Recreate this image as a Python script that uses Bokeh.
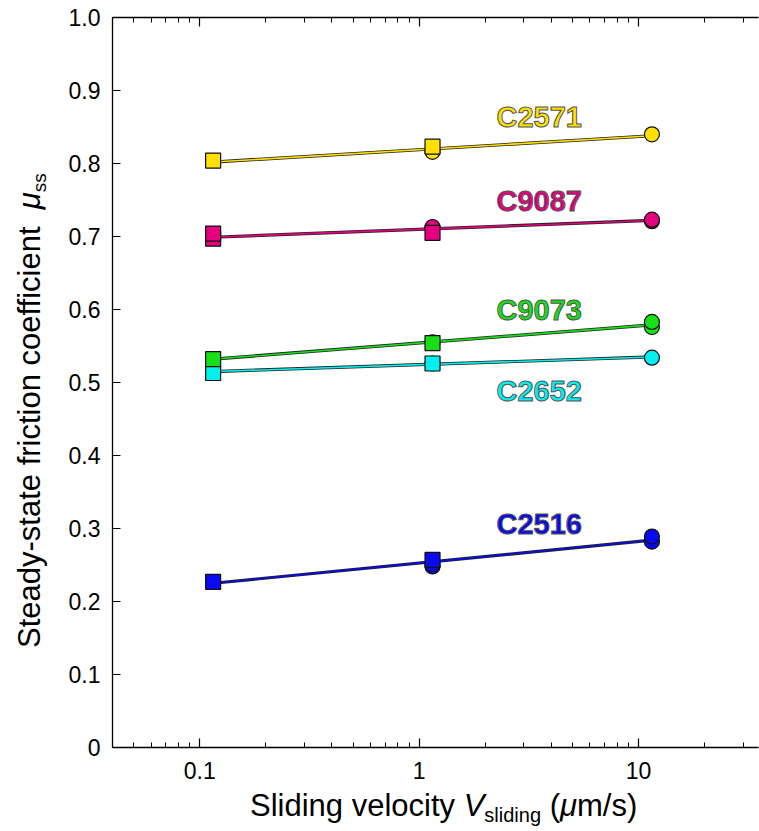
import math
from bokeh.plotting import figure
from bokeh.models import LogAxis, FixedTicker, Div
from bokeh.layouts import row, column
from bokeh.embed import file_html
from bokeh.resources import INLINE
from bokeh.core.properties import value

FONT = "Liberation Sans"

# ---------------- data ----------------
samples = ["C2516", "C2652", "C9073", "C9087", "C2571"]
colors = ["#0A0AF0", "#00F0F0", "#18E018", "#E4007F", "#FFE000"]

# square markers: velocity (um/s) and mu_ss
c2516_sq_v = [0.115, 1.15]
c2516_sq_mu = [0.227, 0.257]
c2652_sq_v = [0.115, 1.15]
c2652_sq_mu = [0.513, 0.526]
c9073_sq_v = [0.115, 1.15]
c9073_sq_mu = [0.532, 0.554]
c9087_sq_v = [0.115, 0.115, 1.15]
c9087_sq_mu = [0.697, 0.704, 0.705]
c2571_sq_v = [0.115, 1.15]
c2571_sq_mu = [0.804, 0.823]

# circle markers
c2516_ci_v = [1.15, 1.15, 11.5, 11.5]
c2516_ci_mu = [0.248, 0.251, 0.282, 0.289]
c2652_ci_v = [1.15, 11.5]
c2652_ci_mu = [0.526, 0.534]
c9073_ci_v = [1.15, 11.5, 11.5]
c9073_ci_mu = [0.555, 0.576, 0.583]
c9087_ci_v = [1.15, 11.5, 11.5]
c9087_ci_mu = [0.713, 0.721, 0.723]
c2571_ci_v = [1.15, 11.5]
c2571_ci_mu = [0.816, 0.840]

# fitted lines (end points)
fit_v = [0.115, 11.5]
c2516_fit = [0.225, 0.284]
c2652_fit = [0.515, 0.535]
c9073_fit = [0.532, 0.579]
c9087_fit = [0.699, 0.722]
c2571_fit = [0.802, 0.838]

sq_v = [c2516_sq_v, c2652_sq_v, c9073_sq_v, c9087_sq_v, c2571_sq_v]
sq_mu = [c2516_sq_mu, c2652_sq_mu, c9073_sq_mu, c9087_sq_mu, c2571_sq_mu]
ci_v = [c2516_ci_v, c2652_ci_v, c9073_ci_v, c9087_ci_v, c2571_ci_v]
ci_mu = [c2516_ci_mu, c2652_ci_mu, c9073_ci_mu, c9087_ci_mu, c2571_ci_mu]
fits = [c2516_fit, c2652_fit, c9073_fit, c9087_fit, c2571_fit]

x_major = [0.1, 1, 10]
x_minor = [0.04, 0.05, 0.06, 0.07, 0.08, 0.09,
           0.2, 0.3, 0.4, 0.5, 0.6, 0.7, 0.8, 0.9,
           2, 3, 4, 5, 6, 7, 8, 9, 20, 30]
x_labels = ["0.1", "1", "10"]
y_ticks = [0, 0.1, 0.2, 0.3, 0.4, 0.5, 0.6, 0.7, 0.8, 0.9, 1.0]
y_labels = ["0", "0.1", "0.2", "0.3", "0.4", "0.5", "0.6", "0.7", "0.8", "0.9", "1.0"]

# ---------------- layout helpers (page pixels -> data) ----------------
def xv(px):
    return 10 ** (-1 + (px - 199.3) / 219.4)

def yv(py):
    return (747.3 - py) / 730.0

YDIV_W = 56
FRAME_L, FRAME_R = 112, 758
FRAME_T, FRAME_H = 17, 730
FIG_H = 790
X0, X1 = xv(FRAME_L), xv(FRAME_R)

p = figure(x_axis_type="log", x_range=(X0, X1), y_range=(0, 1),
           frame_width=FRAME_R - FRAME_L, frame_height=FRAME_H,
           min_border_left=FRAME_L - YDIV_W, min_border_right=1,
           min_border_top=FRAME_T, min_border_bottom=FIG_H - FRAME_T - FRAME_H,
           output_backend="svg", toolbar_location=None)
p.grid.visible = False
p.outline_line_color = None
p.background_fill_color = "white"
p.border_fill_color = "white"

xa = p.xaxis[0]
xa.ticker = FixedTicker(ticks=x_major, minor_ticks=x_minor)
xa.major_label_overrides = {t: l for t, l in zip(x_major, x_labels)}
xa.major_tick_in = 9
xa.major_tick_out = 0
xa.minor_tick_in = 5
xa.minor_tick_out = 0
xa.axis_line_width = 1.3
xa.major_tick_line_width = 1.2
xa.minor_tick_line_width = 1.0
xa.major_label_text_font = FONT
xa.major_label_text_font_size = "23px"
xa.major_label_text_color = "black"
xa.major_label_standoff = 14

top = LogAxis(ticker=FixedTicker(ticks=x_major, minor_ticks=x_minor),
              major_tick_in=9, major_tick_out=0, minor_tick_in=5, minor_tick_out=0,
              axis_line_width=1.3, major_tick_line_width=1.2, minor_tick_line_width=1.0,
              major_label_text_font_size="0px", major_label_standoff=0)
top.major_label_overrides = {t: "" for t in x_major}
p.add_layout(top, "above")

ya = p.yaxis[0]
ya.ticker = FixedTicker(ticks=y_ticks)
ya.major_label_overrides = {t: l for t, l in zip(y_ticks, y_labels)}
ya.major_tick_in = 8
ya.major_tick_out = 0
ya.minor_tick_in = 0
ya.minor_tick_out = 0
ya.axis_line_width = 1.3
ya.major_tick_line_width = 1.2
ya.major_label_text_font = FONT
ya.major_label_text_font_size = "23px"
ya.major_label_text_color = "black"
ya.major_label_standoff = 12

# ---------------- data marks ----------------
for i, s in enumerate(samples):
    p.line(fit_v, fits[i], line_color="#222222", line_width=3.2)
    p.line(fit_v, fits[i], line_color=colors[i], line_width=1.6)

for i, s in enumerate(samples):
    c = colors[i]
    p.scatter(ci_v[i], ci_mu[i], marker="circle", size=15,
              fill_color=c, line_color="#111111", line_width=1.2)
    p.scatter(sq_v[i], sq_mu[i], marker="square", size=15,
              fill_color=c, line_color="#111111", line_width=1.2)

# sample labels
lab_x = [xv(496)] * 5
lab_y = [yv(524), yv(391), yv(310), yv(201), yv(117)]
p.text(x=lab_x, y=lab_y, text=samples, text_color=colors,
       text_font=value(FONT), text_font_size="29px", text_font_style="bold",
       text_align="left", text_baseline="alphabetic",
       text_outline_color="#555555")

# ---------------- axis titles (HTML, real text) ----------------
font_css = f"font-family:'{FONT}'; font-size:31px; line-height:31px; white-space:nowrap; color:black;"
sub_css = "font-size:20px; position:relative; top:6px;"

y_html = (f"<div style=\"{font_css} position:relative; left:14px; top:648px; "
          f"transform:rotate(-90deg); transform-origin:0 0; width:600px;\">"
          f"Steady-state friction coefficient&nbsp;&nbsp;<i>\u03bc</i>"
          f"<span style=\"font-size:19px; position:relative; top:6px;\">ss</span></div>")
x_html = (f"<div style=\"{font_css} margin-left:{250 - YDIV_W}px;\">"
          f"Sliding velocity <i>V</i><span style=\"{sub_css}\">sliding</span> "
          f"(<i>\u03bc</i>m/s)</div>")

ydiv = Div(text=y_html, width=YDIV_W, height=831, margin=0,
           styles={"overflow": "visible"})
xdiv = Div(text=x_html, width=759 - YDIV_W, height=831 - FIG_H, margin=0,
           styles={"overflow": "visible"})

page = row(ydiv, column(p, xdiv, spacing=0), spacing=0)

open("out.html", "w").write(file_html(page, INLINE))
